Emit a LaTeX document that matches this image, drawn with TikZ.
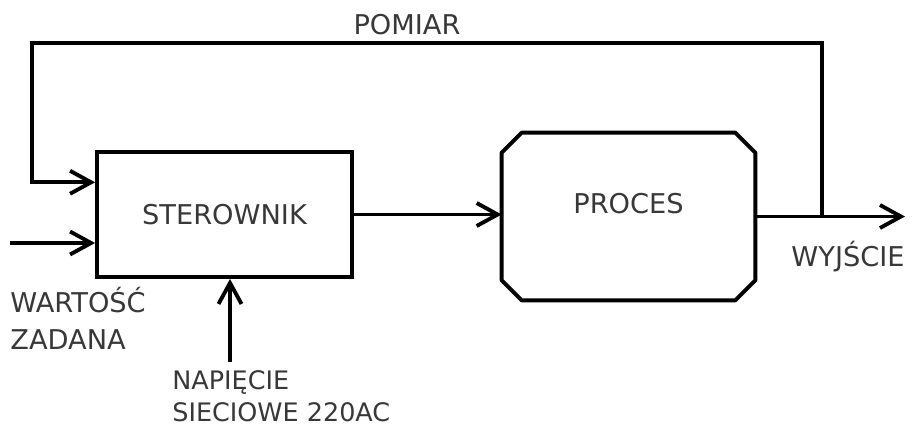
\documentclass[tikz,border=0pt]{standalone}
\usepackage{fontspec}
\setmainfont{DejaVu Sans}
\usetikzlibrary{arrows.meta, positioning, calc}
\colorlet{txtgray}{black!78}

\tikzset{
  blok/.style={draw=black, line width=2.2pt, minimum width=5.1cm, minimum height=2.5cm},
  opis/.style={text=txtgray, font=\fontsize{15.5}{21}\selectfont, inner sep=0pt},
  sygnal/.style={line width=2.2pt, -{Straight Barb[length=0.42cm, width=0.46cm, line width=2.2pt]}},
}

\begin{document}
\begin{tikzpicture}[x=0.02cm, y=-0.02cm]
    \useasboundingbox (0,0) rectangle (917,427);

    % bloki
    \node[blok, opis, inner sep=0pt] (ster) at (224.5, 214.5) {STEROWNIK};
    \node[minimum width=5.06cm, minimum height=3.34cm, inner sep=0pt,
          label={[opis, yshift=0.25cm]center:PROCES}] (proc) at (628.5, 216.5) {};
    \draw[line width=2.2pt, line join=round]
        ($(proc.north west)+(20,0)$) -- ($(proc.north east)+(-20,0)$)
        -- ($(proc.north east)+(0,20)$) -- ($(proc.south east)+(0,-20)$)
        -- ($(proc.south east)+(-20,0)$) -- ($(proc.south west)+(20,0)$)
        -- ($(proc.south west)+(0,-20)$) -- ($(proc.north west)+(0,20)$) -- cycle;

    % punkty pomocnicze
    \coordinate (wyj) at (905, 216.5);
    \coordinate (odczep) at (822, 216.5);
    \coordinate (zad) at (10, 243);
    \coordinate (zasil) at (230, 362);

    % sygnaly
    \draw[sygnal] (ster.east) -- (ster.east -| proc.west);
    \draw[sygnal] (proc.east) -- (wyj);
    \draw[sygnal] (odczep) -- (822, 43) -- (32, 43)
        |- ($(ster.north west)!0.25!(ster.south west)$);
    \draw[sygnal] (zad) -- (zad -| ster.west);
    \draw[sygnal] (zasil) -- (zasil |- ster.south);

    % opisy
    \node[opis] (pomiar) at (407, 25) {POMIAR};
    \node[opis] (wyjscie) at (848, 257) {WYJŚCIE};
    \node[opis, anchor=west, align=left] (wartosc) at (10, 318) {WARTOŚĆ\\ZADANA};
    \node[opis, anchor=west, align=left, font=\fontsize{14.5}{18}\selectfont] (napiecie) at (172, 396)
        {NAPIĘCIE\\SIECIOWE 220AC};
\end{tikzpicture}
\end{document}
